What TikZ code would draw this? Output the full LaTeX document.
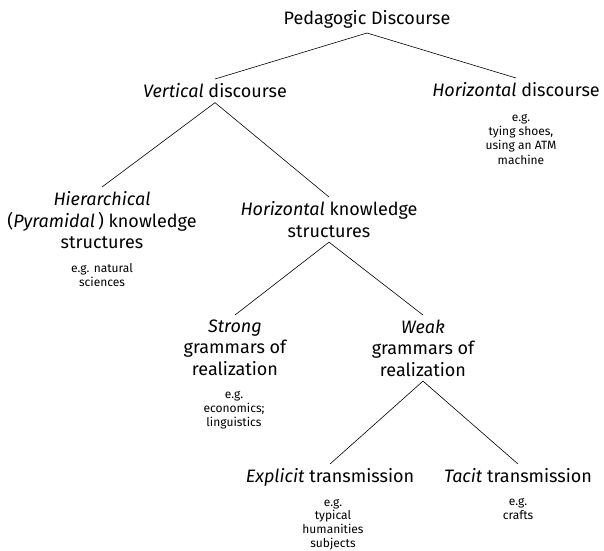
\documentclass[tikz,border=0pt]{standalone}
\usepackage{fontspec}
\setmainfont{Fira Sans}
\usepackage{tikz}
\usetikzlibrary{positioning}

\begin{document}
\begin{tikzpicture}[y=-1pt,x=1pt,
	main/.style={align=center, inner sep=4.5pt, font=\fontsize{18}{21.5}\selectfont},
	eg/.style={align=center, inner sep=0pt, anchor=north, font=\fontsize{12}{14.3}\selectfont},
	branch/.style={line width=0.6pt}]
	\useasboundingbox (0,0) rectangle (604,550);

	% headings
	\node[main, anchor=south] (root) at (367,33) {Pedagogic Discourse};
	\node[main, anchor=north] (vert) at (215,79) {\textit{Vertical} discourse};
	\node[main, anchor=north] (hdisc) at (516,78) {\textit{Horizontal} discourse};
	\node[main, anchor=north] (hier) at (102,187) {\textit{Hierarchical}\\(\textit{Pyramidal}\,) knowledge\\structures};
	\node[main, anchor=north] (hks) at (329,197) {\textit{Horizontal} knowledge\\structures};
	\node[main, anchor=north] (strong) at (235,315) {\textit{Strong}\\grammars of\\realization};
	\node[main, anchor=north] (weak) at (423,315) {\textit{Weak}\\grammars of\\realization};
	\node[main, anchor=north] (expl) at (330,464) {\textit{Explicit} transmission};
	\node[main, anchor=north] (tacit) at (518,464) {\textit{Tacit} transmission};

	% examples
	\node[eg] (hdisc-eg) at (521,114) {e.g.\\tying shoes,\\using an ATM\\machine};
	\node[eg] (hier-eg) at (102,263) {e.g. natural\\sciences};
	\node[eg] (strong-eg) at (234,391) {e.g.\\economics;\\linguistics};
	\node[eg, font=\fontsize{12}{13.6}\selectfont] (expl-eg) at (333,499) {e.g.\\typical\\humanities\\subjects};
	\node[eg] (tacit-eg) at (518,498) {e.g.\\crafts};

	% branches
	\draw[branch] (root.south) -- (vert.north);
	\draw[branch] (root.south) -- (hdisc.north);
	\draw[branch] (vert.south) -- (hier.north);
	\draw[branch] (vert.south) -- (hks.north);
	\draw[branch] (hks.south) -- (strong.north);
	\draw[branch] (hks.south) -- (weak.north);
	\draw[branch] (weak.south) -- (expl.north);
	\draw[branch] (weak.south) -- (tacit.north);
\end{tikzpicture}
\end{document}
